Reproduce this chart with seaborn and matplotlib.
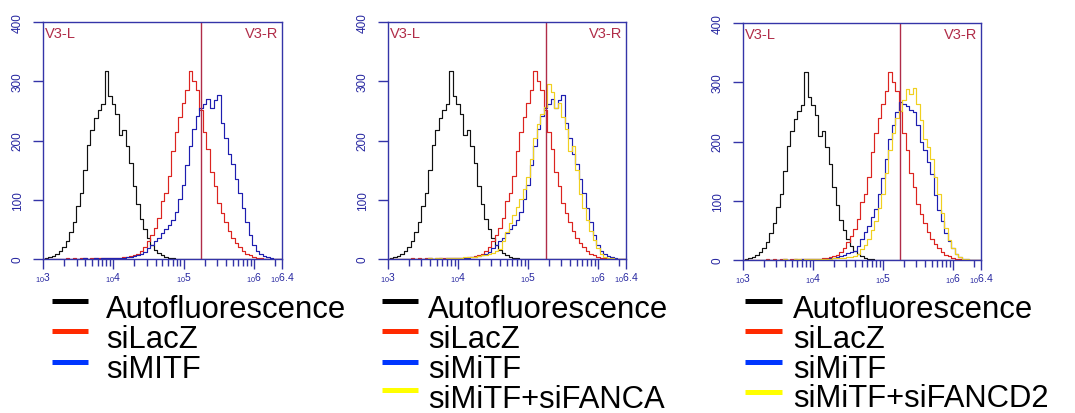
import numpy as np
import pandas as pd
import matplotlib
matplotlib.use("Agg")
import matplotlib.pyplot as plt
import seaborn as sns
from matplotlib.lines import Line2D
from matplotlib.ticker import LogLocator, NullFormatter

# ---------------- data (log10 fluorescence channels, counts) ----------------
LOG_CHANNELS = np.round(np.arange(3.0, 6.4001, 0.05), 2)

AUTOFLUORESCENCE = [0, 2, 3, 5, 8, 13, 20, 30, 45, 62,
                    90, 112, 150, 192, 218, 238, 252, 262, 318, 275,
                    262, 245, 210, 218, 190, 162, 124, 92, 68, 50,
                    35, 24, 15, 10, 6, 4, 2, 1, 0, 0,
                    0, 0, 0, 0, 0, 0, 0, 0, 0, 0,
                    0, 0, 0, 0, 0, 0, 0, 0, 0, 0,
                    0, 0, 0, 0, 0, 0, 0, 0, 0]
SILACZ = [0, 0, 0, 0, 0, 0, 0, 1, 0, 1,
          0, 1, 1, 0, 1, 1, 2, 1, 1, 2,
          1, 2, 2, 3, 3, 5, 7, 9, 13, 20,
          30, 40, 52, 70, 98, 112, 140, 182, 215, 240,
          264, 285, 318, 300, 285, 252, 214, 186, 146, 124,
          95, 78, 62, 48, 36, 27, 20, 14, 9, 6,
          3, 2, 1, 0, 0, 0, 0, 0, 0]
SIMITF = [0, 0, 0, 0, 0, 0, 0, 0, 0, 0,
          0, 0, 1, 0, 0, 1, 0, 1, 1, 1,
          1, 1, 2, 2, 3, 4, 5, 7, 9, 12,
          18, 24, 30, 36, 44, 50, 58, 66, 80, 102,
          125, 158, 190, 220, 242, 255, 262, 270, 255, 268,
          276, 230, 205, 178, 160, 135, 112, 86, 62, 40,
          24, 14, 8, 5, 3, 1, 0, 0, 0]
SIMITF_P3 = [0, 0, 0, 0, 0, 0, 0, 0, 0, 0,
             0, 0, 1, 0, 0, 1, 0, 1, 1, 1,
             1, 1, 1, 2, 2, 3, 4, 5, 7, 9,
             11, 13, 16, 24, 36, 47, 58, 72, 86, 112,
             138, 170, 205, 228, 250, 266, 264, 260, 254, 249,
             228, 200, 185, 165, 145, 110, 85, 65, 46, 32,
             20, 10, 5, 2, 1, 0, 0, 0, 0]
SIMITF_SIFANCA = [0, 0, 0, 0, 0, 0, 0, 0, 0, 0,
                  0, 0, 1, 0, 1, 1, 0, 1, 2, 1,
                  2, 2, 3, 3, 4, 4, 5, 6, 7, 8,
                  10, 13, 17, 30, 45, 60, 75, 88, 102, 118,
                  138, 169, 205, 228, 244, 256, 296, 282, 255, 264,
                  240, 220, 182, 190, 150, 110, 86, 66, 48, 32,
                  18, 9, 4, 2, 1, 0, 0, 0, 0]
SIMITF_SIFANCD2 = [0, 0, 0, 0, 0, 0, 0, 0, 0, 0,
                   0, 0, 1, 0, 0, 1, 1, 0, 1, 1,
                   1, 1, 2, 1, 2, 2, 3, 3, 4, 4,
                   5, 5, 6, 10, 18, 26, 36, 50, 66, 88,
                   112, 146, 185, 215, 240, 252, 270, 288, 280, 290,
                   264, 236, 205, 190, 170, 140, 112, 80, 54, 34,
                   20, 10, 5, 2, 1, 0, 0, 0, 0]

PANEL_SERIES = [
    [("Autofluorescence", AUTOFLUORESCENCE), ("siLacZ", SILACZ), ("siMITF", SIMITF)],
    [("Autofluorescence", AUTOFLUORESCENCE), ("siLacZ", SILACZ), ("siMiTF", SIMITF),
     ("siMiTF+siFANCA", SIMITF_SIFANCA)],
    [("Autofluorescence", AUTOFLUORESCENCE), ("siLacZ", SILACZ), ("siMiTF", SIMITF_P3),
     ("siMiTF+siFANCD2", SIMITF_SIFANCD2)],
]
GATE_LOG = 5.25
Y_TICKS = [0, 100, 200, 300, 400]
X_TICK_EXP = ["3", "4", "5", "6", "6.4"]

# ---------------- styles ----------------
CURVE_COLORS = ["#111111", "#DC2420", "#1E1EB0", "#F0D020"]
LEGEND_COLORS = ["#000000", "#FF2A00", "#0036FF", "#FFFF00"]
AXIS_BLUE = "#3434A8"
LABEL_BLUE = "#2626A0"
GATE_RED = "#B02C48"

sns.set_style("white")
plt.rcParams["font.family"] = ["Liberation Sans", "DejaVu Sans"]
plt.rcParams["mathtext.fontset"] = "custom"
plt.rcParams["mathtext.rm"] = "Liberation Sans"

W, H = 1075, 414
fig = plt.figure(figsize=(W / 100, H / 100), dpi=100)

AX_BOXES = [(43, 23, 282, 260), (388, 23, 626, 260), (743, 24, 981, 261)]
LEG_LINE_X = [(52, 88), (382, 418), (745, 782)]
LEG_TEXT_X = [106, 428, 793]
LEG_LINE_Y = [[302, 332, 363], [302, 332, 363, 391], [302, 332, 363, 393]]
LEG_BASE_Y = [[318, 348, 378], [318, 348, 378, 408], [318, 348, 378, 407]]

for p, series in enumerate(PANEL_SERIES):
    l, t, r, b = AX_BOXES[p]
    ax = fig.add_axes([l / W, 1 - b / H, (r - l) / W, (b - t) / H])
    names = [n for n, _ in series]
    df = pd.concat([
        pd.DataFrame({"fluor": 10 ** LOG_CHANNELS, "count": vals, "sample": n})
        for n, vals in series
    ], ignore_index=True)
    pal = {n: CURVE_COLORS[i] for i, n in enumerate(names)}
    sns.lineplot(data=df, x="fluor", y="count", hue="sample", hue_order=names,
                 palette=pal, legend=False, ax=ax, lw=0.85, estimator=None,
                 drawstyle="steps-mid")
    ax.set_xscale("log")
    ax.set_xlim(1e3, 10 ** 6.4)
    ax.set_ylim(0, 400)
    ax.set_xlabel("")
    ax.set_ylabel("")
    ax.axvline(10 ** GATE_LOG, color=GATE_RED, lw=1.0)

    ax.set_xticks([10 ** float(e) for e in X_TICK_EXP])
    ax.set_xticklabels([r"$\mathregular{{}_{10}%s}$" % e for e in X_TICK_EXP],
                       fontsize=7.5, color=LABEL_BLUE)
    ax.xaxis.set_minor_locator(LogLocator(base=10, subs=np.arange(2, 10), numticks=20))
    ax.xaxis.set_minor_formatter(NullFormatter())
    ax.tick_params(axis="x", which="major", direction="out", length=7, width=1,
                   color=AXIS_BLUE, pad=1, bottom=True)
    ax.tick_params(axis="x", which="minor", direction="out", length=5, width=1,
                   color=AXIS_BLUE, bottom=True)
    ax.set_yticks(Y_TICKS)
    ax.set_yticklabels([str(v) for v in Y_TICKS], rotation=90, va="center",
                       fontsize=8.5, color=LABEL_BLUE)
    ax.tick_params(axis="y", direction="out", length=7, width=1, color=AXIS_BLUE,
                   pad=7, left=True)
    for s in ax.spines.values():
        s.set_color(AXIS_BLUE)
        s.set_linewidth(1.0)
        s.set_visible(True)

    ax.text(0.008, 0.985, "V3-L", transform=ax.transAxes, ha="left", va="top",
            fontsize=10.5, color=GATE_RED)
    ax.text(0.985, 0.985, "V3-R", transform=ax.transAxes, ha="right", va="top",
            fontsize=10.5, color=GATE_RED)

    # legend below the panel
    x0, x1 = LEG_LINE_X[p]
    for i, n in enumerate(names):
        yl = 1 - LEG_LINE_Y[p][i] / H
        fig.add_artist(Line2D([x0 / W, x1 / W], [yl, yl], transform=fig.transFigure,
                              color=LEGEND_COLORS[i], lw=3.6, solid_capstyle="butt"))
        fig.text(LEG_TEXT_X[p] / W, 1 - LEG_BASE_Y[p][i] / H, n, fontsize=22.3,
                 va="baseline", ha="left", color="black")

fig.savefig("out.png", dpi=100)
